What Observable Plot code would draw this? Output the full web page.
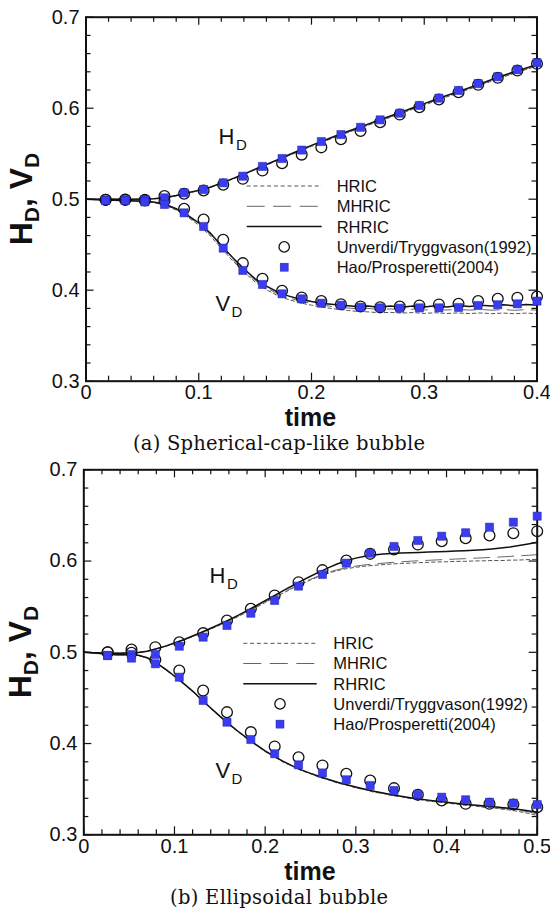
<!DOCTYPE html>
<html><head><meta charset="utf-8">
<script src="https://cdn.jsdelivr.net/npm/d3@7"></script>
<script src="https://cdn.jsdelivr.net/npm/@observablehq/plot@0.6"></script>
<style>
html,body{margin:0;padding:0;background:#fff}
#wrap{position:relative;width:550px;height:911px;overflow:hidden;background:#fff}
#wrap svg{position:absolute;left:0}
</style></head><body><div id="wrap"></div>
<script>
// ---------- DATA ----------
const seriesNames = ["HRIC", "MHRIC", "RHRIC", "Unverdi/Tryggvason(1992)", "Hao/Prosperetti(2004)"];
const captions = ["(a) Spherical-cap-like bubble", "(b) Ellipsoidal bubble"];
const yTickValues = [0.3, 0.4, 0.5, 0.6, 0.7];
const yTickLabels = ["0.3", "0.4", "0.5", "0.6", "0.7"];
const yMinorTicks = [0.32,0.34,0.36,0.38,0.42,0.44,0.46,0.48,0.52,0.54,0.56,0.58,0.62,0.64,0.66,0.68];
const xTickValuesA = [0, 0.1, 0.2, 0.3, 0.4];
const xTickLabelsA = ["0", "0.1", "0.2", "0.3", "0.4"];
const xMinorTicksA = [0.02,0.04,0.06,0.08,0.12,0.14,0.16,0.18,0.22,0.24,0.26,0.28,0.32,0.34,0.36,0.38];
const xTickValuesB = [0, 0.1, 0.2, 0.3, 0.4, 0.5];
const xTickLabelsB = ["0", "0.1", "0.2", "0.3", "0.4", "0.5"];
const xMinorTicksB = [0.02,0.04,0.06,0.08,0.12,0.14,0.16,0.18,0.22,0.24,0.26,0.28,0.32,0.34,0.36,0.38,0.42,0.44,0.46,0.48];

// Panel (a): markers
const markTimeA = [0.0174,0.0348,0.0522,0.0696,0.0870,0.1043,0.1217,0.1391,0.1565,0.1739,0.1913,0.2087,0.2261,0.2435,0.2609,0.2783,0.2957,0.3130,0.3304,0.3478,0.3652,0.3826,0.4000];
const hUnverdiA = [0.4993,0.4995,0.4993,0.5035,0.5060,0.5096,0.5160,0.5224,0.5315,0.5396,0.5490,0.5570,0.5660,0.5750,0.5846,0.5930,0.6011,0.6096,0.6176,0.6257,0.6334,0.6414,0.6488];
const hHaoA     = [0.4993,0.4995,0.4993,0.5015,0.5070,0.5107,0.5180,0.5253,0.5360,0.5447,0.5540,0.5634,0.5710,0.5790,0.5872,0.5945,0.6030,0.6110,0.6195,0.6270,0.6345,0.6422,0.6500];
const vUnverdiA = [0.4993,0.4993,0.4985,0.4980,0.4895,0.4777,0.4554,0.4297,0.4125,0.3993,0.3920,0.3880,0.3846,0.3821,0.3813,0.3820,0.3832,0.3843,0.3850,0.3880,0.3905,0.3916,0.3930];
const vHaoA     = [0.4985,0.4985,0.4970,0.4942,0.4850,0.4700,0.4462,0.4217,0.4063,0.3960,0.3905,0.3857,0.3835,0.3813,0.3806,0.3802,0.3806,0.3806,0.3810,0.3832,0.3840,0.3850,0.3880];
// Panel (a): simulation lines
const lineTimeA = [0,0.01,0.02,0.03,0.04,0.05,0.06,0.07,0.08,0.09,0.10,0.11,0.12,0.13,0.14,0.15,0.16,0.17,0.18,0.19,0.20,0.21,0.22,0.23,0.24,0.25,0.26,0.27,0.28,0.29,0.30,0.31,0.32,0.33,0.34,0.35,0.36,0.37,0.38,0.39,0.40];
const hRhricA = [0.5000,0.5000,0.5000,0.5000,0.5000,0.5001,0.5006,0.5016,0.5040,0.5070,0.5097,0.5132,0.5177,0.5226,0.5276,0.5330,0.5381,0.5435,0.5489,0.5540,0.5591,0.5640,0.5689,0.5735,0.5780,0.5825,0.5870,0.5915,0.5960,0.6005,0.6050,0.6095,0.6140,0.6181,0.6225,0.6270,0.6315,0.6360,0.6400,0.6440,0.6480];
const hHricA  = [0.5000,0.5000,0.5000,0.5000,0.5000,0.5001,0.5005,0.5014,0.5037,0.5066,0.5093,0.5128,0.5172,0.5221,0.5270,0.5323,0.5374,0.5427,0.5480,0.5530,0.5580,0.5628,0.5676,0.5722,0.5767,0.5811,0.5856,0.5900,0.5945,0.5990,0.6034,0.6079,0.6124,0.6166,0.6210,0.6254,0.6298,0.6343,0.6384,0.6424,0.6463];
const hMhricA = [0.5000,0.5000,0.5000,0.5000,0.5000,0.5001,0.5005,0.5015,0.5038,0.5068,0.5095,0.5130,0.5174,0.5223,0.5273,0.5326,0.5377,0.5431,0.5484,0.5535,0.5585,0.5634,0.5682,0.5728,0.5773,0.5818,0.5863,0.5907,0.5952,0.5997,0.6042,0.6087,0.6132,0.6173,0.6217,0.6262,0.6306,0.6351,0.6392,0.6432,0.6471];
const vRhricA = [0.5000,0.4995,0.4991,0.4987,0.4983,0.4978,0.4968,0.4945,0.4895,0.4825,0.4740,0.4630,0.4490,0.4360,0.4235,0.4125,0.4045,0.3980,0.3935,0.3900,0.3875,0.3855,0.3843,0.3832,0.3822,0.3826,0.3812,0.3826,0.3812,0.3826,0.3815,0.3830,0.3816,0.3831,0.3820,0.3835,0.3825,0.3840,0.3830,0.3842,0.3838];
const vHricA  = [0.5000,0.4994,0.4990,0.4985,0.4980,0.4975,0.4963,0.4935,0.4880,0.4805,0.4715,0.4600,0.4460,0.4325,0.4200,0.4090,0.4005,0.3940,0.3895,0.3860,0.3835,0.3812,0.3795,0.3780,0.3768,0.3762,0.3752,0.3756,0.3748,0.3754,0.3745,0.3752,0.3744,0.3750,0.3743,0.3750,0.3742,0.3749,0.3741,0.3748,0.3742];
const vMhricA = [0.5000,0.4995,0.4990,0.4986,0.4982,0.4977,0.4966,0.4940,0.4888,0.4815,0.4728,0.4615,0.4475,0.4342,0.4218,0.4108,0.4025,0.3960,0.3915,0.3880,0.3855,0.3834,0.3818,0.3806,0.3797,0.3800,0.3788,0.3794,0.3785,0.3792,0.3783,0.3790,0.3782,0.3789,0.3781,0.3788,0.3780,0.3787,0.3779,0.3786,0.3781];

// Panel (b): markers
const markTimeB = [0.0263,0.0526,0.0789,0.1053,0.1316,0.1579,0.1842,0.2105,0.2368,0.2632,0.2895,0.3158,0.3421,0.3684,0.3947,0.4211,0.4474,0.4737,0.5000];
const hUnverdiB = [0.5001,0.5030,0.5056,0.5110,0.5210,0.5348,0.5477,0.5623,0.5768,0.5900,0.6006,0.6079,0.6127,0.6181,0.6218,0.6251,0.6280,0.6305,0.6327];
const hHaoB     = [0.4965,0.4975,0.4976,0.5067,0.5166,0.5294,0.5428,0.5568,0.5725,0.5853,0.5977,0.6086,0.6160,0.6225,0.6272,0.6310,0.6371,0.6426,0.6492];
const vUnverdiB = [0.5001,0.4995,0.4918,0.4800,0.4580,0.4344,0.4125,0.3968,0.3850,0.3760,0.3669,0.3595,0.3511,0.3438,0.3376,0.3340,0.3340,0.3332,0.3303];
const vHaoB     = [0.4965,0.4936,0.4874,0.4727,0.4472,0.4234,0.4044,0.3888,0.3767,0.3678,0.3603,0.3540,0.3486,0.3442,0.3412,0.3384,0.3357,0.3346,0.3332];
// Panel (b): simulation lines
const lineTimeB = [0,0.01,0.02,0.03,0.04,0.05,0.06,0.07,0.08,0.09,0.10,0.11,0.12,0.13,0.14,0.15,0.16,0.17,0.18,0.19,0.20,0.21,0.22,0.23,0.24,0.25,0.26,0.27,0.28,0.29,0.30,0.31,0.32,0.33,0.34,0.35,0.36,0.37,0.38,0.39,0.40,0.41,0.42,0.43,0.44,0.45,0.46,0.47,0.48,0.49,0.50];
const hRhricB = [0.5000,0.4996,0.4992,0.4990,0.4990,0.4993,0.4998,0.5012,0.5038,0.5068,0.5102,0.5138,0.5178,0.5220,0.5263,0.5308,0.5355,0.5404,0.5456,0.5510,0.5565,0.5620,0.5675,0.5729,0.5782,0.5833,0.5882,0.5928,0.5970,0.6005,0.6032,0.6052,0.6066,0.6076,0.6083,0.6088,0.6092,0.6095,0.6098,0.6101,0.6105,0.6109,0.6114,0.6119,0.6125,0.6133,0.6143,0.6155,0.6170,0.6187,0.6205];
const hHricB  = [0.5000,0.4996,0.4992,0.4990,0.4990,0.4993,0.4998,0.5011,0.5036,0.5065,0.5098,0.5133,0.5172,0.5213,0.5255,0.5298,0.5343,0.5390,0.5440,0.5492,0.5545,0.5598,0.5650,0.5700,0.5748,0.5792,0.5833,0.5868,0.5896,0.5917,0.5932,0.5944,0.5953,0.5961,0.5968,0.5974,0.5977,0.5983,0.5986,0.5990,0.5992,0.5996,0.5997,0.6001,0.6002,0.6006,0.6005,0.6010,0.6011,0.6016,0.6018];
const hMhricB = [0.5000,0.4996,0.4992,0.4990,0.4990,0.4993,0.4998,0.5011,0.5037,0.5066,0.5100,0.5135,0.5174,0.5216,0.5258,0.5302,0.5348,0.5396,0.5446,0.5498,0.5551,0.5604,0.5656,0.5707,0.5755,0.5800,0.5841,0.5877,0.5906,0.5928,0.5945,0.5958,0.5968,0.5977,0.5985,0.5992,0.5998,0.6004,0.6008,0.6013,0.6017,0.6022,0.6026,0.6031,0.6035,0.6041,0.6045,0.6051,0.6057,0.6063,0.6070];
const vRhricB = [0.5000,0.4995,0.4985,0.4975,0.4972,0.4975,0.4968,0.4940,0.4885,0.4815,0.4740,0.4660,0.4575,0.4480,0.4390,0.4300,0.4215,0.4135,0.4060,0.3988,0.3920,0.3860,0.3805,0.3755,0.3712,0.3673,0.3638,0.3606,0.3576,0.3549,0.3523,0.3500,0.3478,0.3458,0.3440,0.3423,0.3407,0.3393,0.3380,0.3368,0.3357,0.3346,0.3336,0.3327,0.3318,0.3309,0.3300,0.3290,0.3278,0.3264,0.3248];
const vHricB  = [0.5000,0.4994,0.4984,0.4974,0.4971,0.4974,0.4966,0.4937,0.4880,0.4810,0.4733,0.4655,0.4568,0.4475,0.4383,0.4295,0.4207,0.4130,0.4050,0.3982,0.3910,0.3856,0.3795,0.3752,0.3702,0.3670,0.3628,0.3602,0.3566,0.3545,0.3512,0.3496,0.3466,0.3453,0.3428,0.3417,0.3396,0.3387,0.3368,0.3361,0.3345,0.3338,0.3323,0.3318,0.3302,0.3298,0.3282,0.3272,0.3255,0.3235,0.3212];
const vMhricB = [0.5000,0.4995,0.4985,0.4975,0.4972,0.4975,0.4967,0.4938,0.4883,0.4812,0.4737,0.4657,0.4572,0.4478,0.4387,0.4298,0.4212,0.4132,0.4055,0.3985,0.3915,0.3858,0.3800,0.3754,0.3707,0.3672,0.3633,0.3604,0.3571,0.3547,0.3518,0.3498,0.3472,0.3455,0.3434,0.3420,0.3402,0.3390,0.3374,0.3364,0.3351,0.3342,0.3330,0.3322,0.3310,0.3303,0.3291,0.3282,0.3268,0.3252,0.3230];

// in-plot annotations (data coordinates of label anchor)
const annotationsA = [{t: 0.1175, v: 0.5686, label: "H", sub: "D"}, {t: 0.1149, v: 0.3850, label: "V", sub: "D"}];
const annotationsB = [{t: 0.1386, v: 0.5838, label: "H", sub: "D"}, {t: 0.1452, v: 0.3701, label: "V", sub: "D"}];

// ---------- STYLE ----------
const SANS = "'Liberation Sans', Arial, Helvetica, sans-serif";
const INK = "#111";
const BLUE = "#3a3cf2";
const lineStyles = {
  HRIC:  {stroke: "#555", strokeWidth: 1, strokeDasharray: "3.5,2.8"},
  MHRIC: {stroke: "#666", strokeWidth: 1, strokeDasharray: "16,8"},
  RHRIC: {stroke: "#111", strokeWidth: 1.5, strokeDasharray: null}
};
const zip = (ts, vs) => ts.map((t, i) => ({t, v: vs[i]}));

function panel(cfg) {
  const W = 550;
  const pw = W - cfg.mL - cfg.mR, ph = cfg.h - cfg.mT - cfg.mB;
  const MAJ = 8, MIN = 5, TW = 1.2;
  const marks = [];
  for (const [name, arrs] of Object.entries(cfg.lines)) {
    for (const a of arrs) {
      marks.push(Plot.line(zip(cfg.lineT, a), {x: "t", y: "v", curve: "linear", ...lineStyles[name]}));
    }
  }
  const tk = (vals, len) => [
    Plot.tickY(vals, {y: d => d, insetRight: pw - len, stroke: INK, strokeWidth: TW}),
    Plot.tickY(vals, {y: d => d, insetLeft: pw - len, stroke: INK, strokeWidth: TW})
  ];
  const tkx = (vals, len) => [
    Plot.tickX(vals, {x: d => d, insetTop: ph - len, stroke: INK, strokeWidth: TW}),
    Plot.tickX(vals, {x: d => d, insetBottom: ph - len, stroke: INK, strokeWidth: TW})
  ];
  marks.push(...tk(yTickValues, MAJ), ...tk(yMinorTicks, MIN), ...tkx(cfg.xMajor, MAJ), ...tkx(cfg.xMinor, MIN));
  marks.push(Plot.frame({stroke: INK, strokeWidth: 2}));
  for (const a of cfg.circles) {
    marks.push(Plot.dot(zip(cfg.markT, a), {x: "t", y: "v", symbol: "circle", r: 5.4, stroke: INK, strokeWidth: 1.3, fill: "none"}));
  }
  for (const a of cfg.squares) {
    marks.push(Plot.dot(zip(cfg.markT, a), {x: "t", y: "v", symbol: "square", r: 4.6, fill: BLUE, stroke: "#2222a0", strokeWidth: 0.5}));
  }
  for (const an of cfg.annos) {
    marks.push(Plot.text([an], {x: "t", y: "v", text: "label", textAnchor: "start", fontSize: 22, fill: INK, fontFamily: SANS}));
    marks.push(Plot.text([an], {x: "t", y: "v", text: "sub", textAnchor: "start", fontSize: 15, fill: INK, fontFamily: SANS,
      dx: an.label === "H" ? 17.5 : 16, dy: 8.5}));
  }
  marks.push(Plot.axisX({ticks: cfg.xMajor, tickFormat: (d) => cfg.xLabels[cfg.xMajor.indexOf(d)], tickSize: 0, tickPadding: 4, label: null, fontSize: 20, fill: INK}));
  marks.push(Plot.axisY({ticks: yTickValues, tickFormat: (d) => yTickLabels[yTickValues.indexOf(d)], tickSize: 0, tickPadding: 6.5, label: null, fontSize: 20, fill: INK}));
  const svg = Plot.plot({
    width: W, height: cfg.h,
    marginLeft: cfg.mL, marginRight: cfg.mR, marginTop: cfg.mT, marginBottom: cfg.mB,
    x: {domain: cfg.xDomain},
    y: {domain: [0.3, 0.7]},
    style: {fontFamily: SANS, fontSize: "20px", color: INK, background: "transparent", overflow: "visible"},
    marks
  });
  svg.style.top = cfg.top + "px";
  return svg;
}

const wrap = document.getElementById("wrap");
wrap.appendChild(panel({
  top: 0, h: 420.7, mL: 85.5, mR: 13.5, mT: 16.7, mB: 40,
  xDomain: [0, 0.4], xMajor: xTickValuesA, xMinor: xMinorTicksA, xLabels: xTickLabelsA,
  lineT: lineTimeA, lines: {HRIC: [hHricA, vHricA], MHRIC: [hMhricA, vMhricA], RHRIC: [hRhricA, vRhricA]},
  markT: markTimeA, circles: [hUnverdiA, vUnverdiA], squares: [hHaoA, vHaoA], annos: annotationsA
}));
wrap.appendChild(panel({
  top: 453, h: 421.3, mL: 83.3, mR: 13.3, mT: 16.3, mB: 40,
  xDomain: [0, 0.5], xMajor: xTickValuesB, xMinor: xMinorTicksB, xLabels: xTickLabelsB,
  lineT: lineTimeB, lines: {HRIC: [hHricB, vHricB], MHRIC: [hMhricB, vMhricB], RHRIC: [hRhricB, vRhricB]},
  markT: markTimeB, circles: [hUnverdiB, vUnverdiB], squares: [hHaoB, vHaoB], annos: annotationsB
}));

// ---------- overlay: axis titles, legends, captions ----------
const ov = d3.select(wrap).append("svg").attr("width", 550).attr("height", 911).style("top", "0px")
  .style("pointer-events", "none").attr("font-family", SANS);

function yTitle(x, y) {
  const t = ov.append("text").attr("transform", `translate(${x},${y}) rotate(-90)`)
    .attr("text-anchor", "middle").attr("font-weight", "bold").attr("font-size", 32).attr("fill", INK);
  t.append("tspan").text("H");
  t.append("tspan").attr("font-size", 21).attr("dy", 7).text("D");
  t.append("tspan").attr("dy", -7).text(", ");
  t.append("tspan").text("V");
  t.append("tspan").attr("font-size", 21).attr("dy", 7).text("D");
}
yTitle(32, 199);
yTitle(31, 652);

function xTitle(x, y) {
  ov.append("text").attr("x", x).attr("y", y).attr("text-anchor", "middle")
    .attr("font-weight", "bold").attr("font-size", 25).attr("fill", INK).text("time");
}
xTitle(310.5, 426);
xTitle(310, 879.6);

function legend(x1, x2, xt, y0, step) {
  const g = ov.append("g");
  ["HRIC", "MHRIC", "RHRIC"].forEach((n, i) => {
    const s = lineStyles[n];
    g.append("line").attr("x1", x1).attr("x2", x2).attr("y1", y0 + i * step).attr("y2", y0 + i * step)
      .attr("stroke", s.stroke).attr("stroke-width", s.strokeWidth)
      .attr("stroke-dasharray", n === "MHRIC" ? "18,8.5" : (n === "HRIC" ? "4,2.8" : null));
  });
  const cx = (x1 + x2) / 2;
  g.append("circle").attr("cx", cx).attr("cy", y0 + 3 * step).attr("r", 5.2)
    .attr("fill", "none").attr("stroke", INK).attr("stroke-width", 1.3);
  g.append("rect").attr("x", cx - 4).attr("y", y0 + 4 * step - 4).attr("width", 8).attr("height", 8)
    .attr("fill", BLUE).attr("stroke", "#2222a0").attr("stroke-width", 0.5);
  seriesNames.forEach((n, i) => {
    g.append("text").attr("x", xt).attr("y", y0 + i * step).attr("dy", "0.36em")
      .attr("font-size", 16.5).attr("fill", INK).text(n);
  });
}
legend(246.7, 321.7, 336.7, 186, 20.3);
legend(243.3, 316.7, 333.3, 643.3, 20.2);

function caption(text, y, len) {
  ov.append("text").attr("x", 279).attr("y", y).attr("text-anchor", "middle")
    .attr("font-family", "'DejaVu Serif', 'Liberation Serif', serif").attr("font-size", 19.5)
    .attr("textLength", len).attr("lengthAdjust", "spacing").attr("fill", INK).text(text);
}
caption(captions[0], 450, 292);
caption(captions[1], 903.5, 218);
</script></body></html>
